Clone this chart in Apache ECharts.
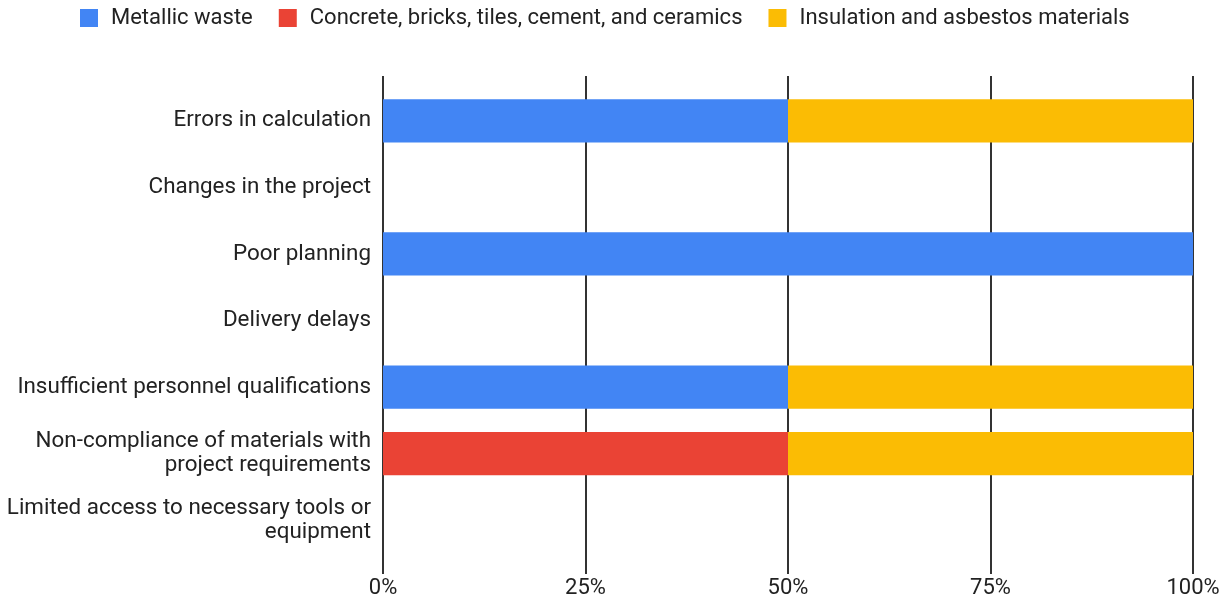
<!DOCTYPE html>
<html>
<head>
<meta charset="utf-8">
<script src="https://cdn.jsdelivr.net/npm/echarts@6/dist/echarts.min.js"></script>
<style>
html,body{margin:0;padding:0;background:#fff;}
#chart{width:1224px;height:602px;}
</style>
</head>
<body>
<div id="chart"></div>
<script>
const categories = [
  "Errors in calculation",
  "Changes in the project",
  "Poor planning",
  "Delivery delays",
  "Insufficient personnel qualifications",
  "Non-compliance of materials with\nproject requirements",
  "Limited access to necessary tools or\nequipment"
];
const seriesNames = ["Metallic waste", "Concrete, bricks, tiles, cement, and ceramics", "Insulation and asbestos materials"];
const metallic = [50, 0, 100, 0, 50, 0, 0];
const concrete = [0, 0, 0, 0, 0, 50, 0];
const insulation = [50, 0, 0, 0, 50, 50, 0];
const colors = ["#4285F4", "#EA4335", "#FBBC04"];
const tickLabels = ["0%", "25%", "50%", "75%", "100%"];

const chart = echarts.init(document.getElementById('chart'), null, {renderer: 'canvas'});
const font = 'Roboto, "Liberation Sans", Arial, sans-serif';
const values = [metallic, concrete, insulation];

chart.setOption({
  animation: false,
  textStyle: {fontFamily: font},
  legend: {
    top: 2,
    left: 75,
    itemWidth: 18,
    itemHeight: 18,
    itemGap: 26,
    icon: 'rect',
    textStyle: {fontSize: 22, color: '#222', fontFamily: font, padding: [0, 0, 0, 8]},
    data: seriesNames
  },
  grid: [
    {left: 383, right: 31, top: 76, height: 498, containLabel: false},
    {left: 383, right: 31, top: 87.5, height: 466, containLabel: false}
  ],
  xAxis: [
    {
      gridIndex: 0, type: 'value', min: 0, max: 100, interval: 25,
      axisLine: {show: false}, axisTick: {show: false},
      splitLine: {show: true, lineStyle: {color: '#333', width: 2}},
      axisLabel: {fontSize: 22, color: '#222', fontFamily: font, margin: 3,
        formatter: v => tickLabels[Math.round(v / 25)]}
    },
    {
      gridIndex: 1, type: 'value', min: 0, max: 100, interval: 25,
      show: false, splitLine: {show: false}
    }
  ],
  yAxis: [
    {gridIndex: 0, type: 'category', data: categories, show: false, inverse: true},
    {
      gridIndex: 1, type: 'category', data: categories, inverse: true,
      axisLine: {show: false}, axisTick: {show: false}, splitLine: {show: false},
      axisLabel: {fontSize: 22.4, color: '#222', fontFamily: font, margin: 12, lineHeight: 24, align: 'right',
        padding: [3, 0, 0, 0]}
    }
  ],
  series: seriesNames.map((n, i) => ({
    name: n,
    type: 'bar',
    stack: 'total',
    xAxisIndex: 1,
    yAxisIndex: 1,
    barWidth: '65%',
    itemStyle: {color: colors[i]},
    data: values[i]
  }))
});
</script>
</body>
</html>
